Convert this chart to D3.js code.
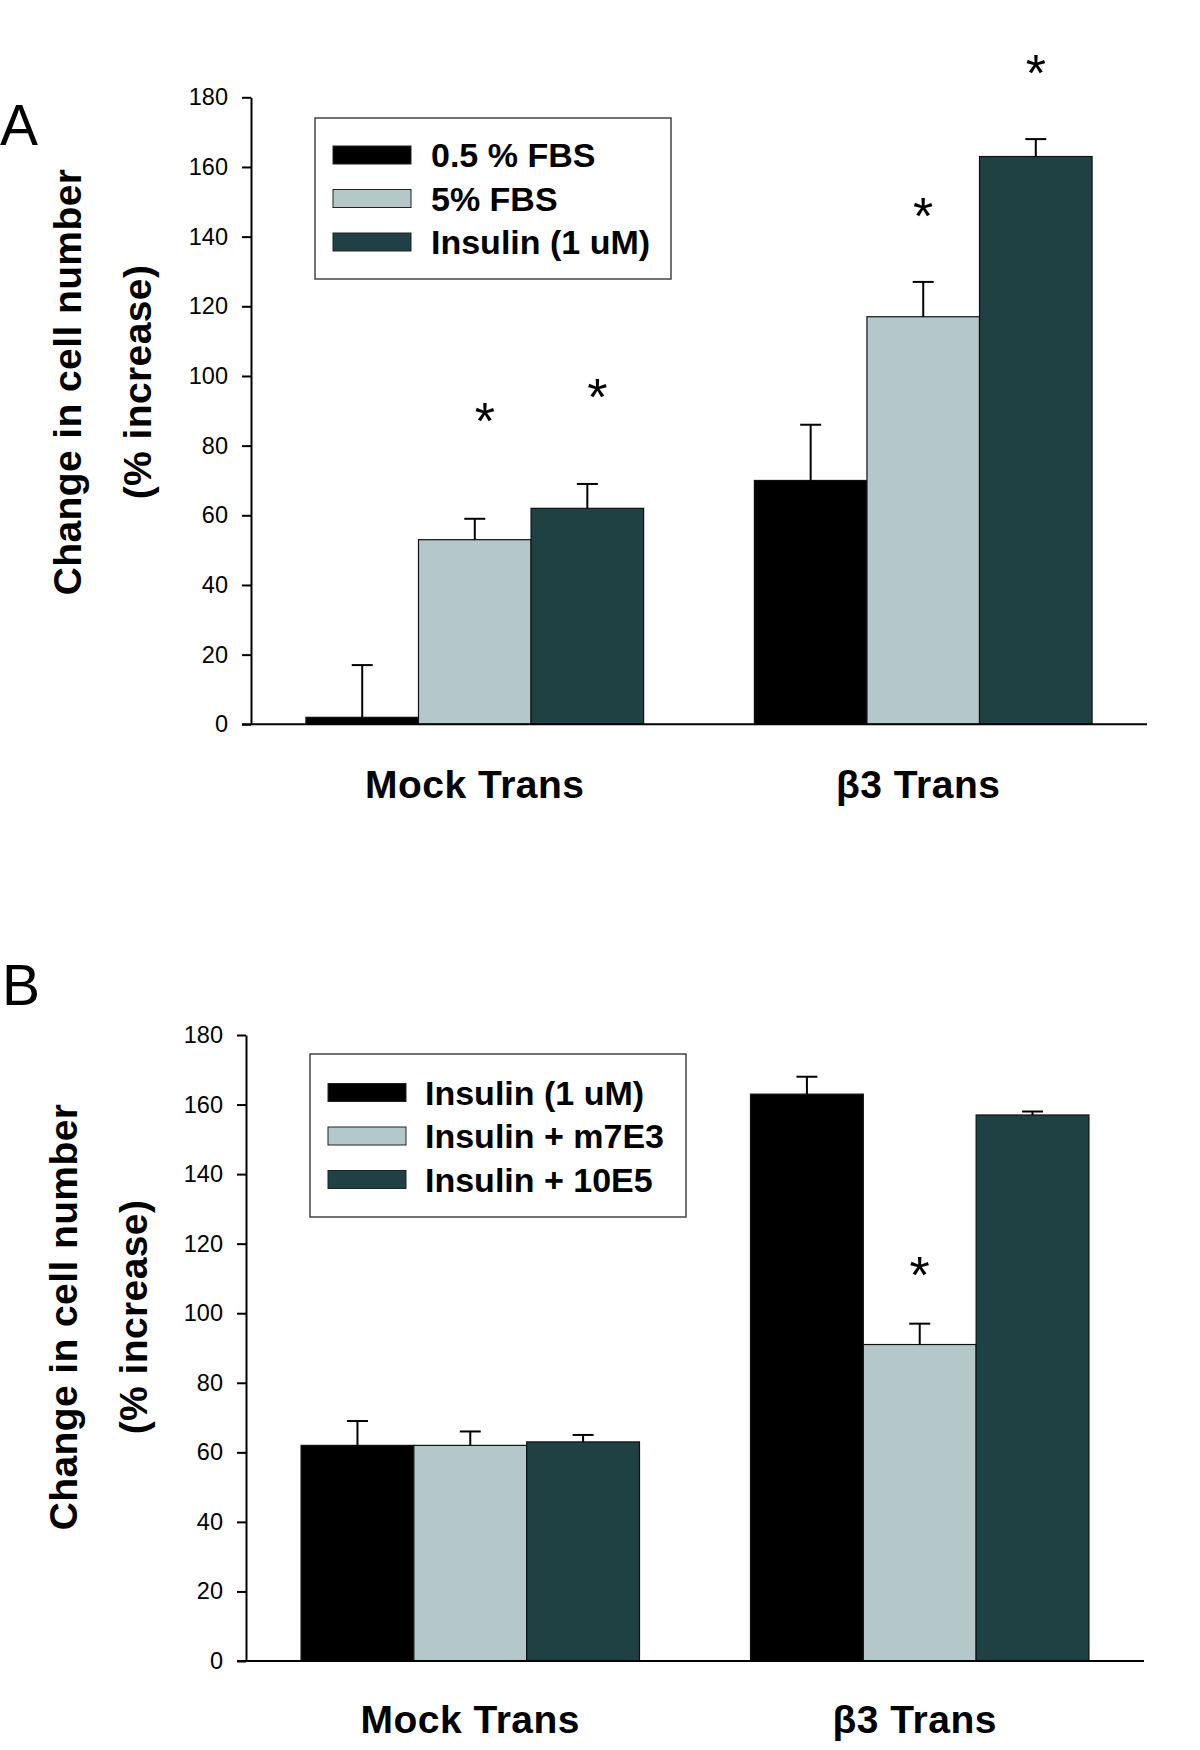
<!DOCTYPE html>
<html>
<head>
<meta charset="utf-8">
<script src="https://cdn.jsdelivr.net/npm/d3@7"></script>
<style>
  html, body { margin: 0; padding: 0; background: #fff; }
  svg { display: block; }
  text { font-family: "Liberation Sans", Arial, sans-serif; }
</style>
</head>
<body>
<svg id="chart" width="1200" height="1750"></svg>
<script>
// ---------- DATA ----------
const categories = ["Mock Trans", "β3 Trans"];
const yTicks = [0, 20, 40, 60, 80, 100, 120, 140, 160, 180];
const yTitle = ["Change in cell number", "(% increase)"];

// Panel A
const seriesA = ["0.5 % FBS", "5% FBS", "Insulin (1 uM)"];
const mockA = [2, 53, 62];
const beta3A = [70, 117, 163];
const mockErrA = [15, 6, 7];
const beta3ErrA = [16, 10, 5];
const mockStarA = [null, 89, 96];
const beta3StarA = [null, 148, 189];

// Panel B
const seriesB = ["Insulin (1 uM)", "Insulin + m7E3", "Insulin + 10E5"];
const mockB = [62, 62, 63];
const beta3B = [163, 91, 157];
const mockErrB = [7, 4, 2];
const beta3ErrB = [5, 6, 1];
const mockStarB = [null, null, null];
const beta3StarB = [null, 113, null];

const colors = ["#000000", "#b5c8c9", "#1f4144"];

// ---------- DRAW ----------
const svg = d3.select("#chart");
svg.append("rect").attr("width", 1200).attr("height", 1750).attr("fill", "#fff");

function drawPanel(p) {
  const g = svg.append("g");
  const y = d3.scaleLinear().domain([0, 180]).range([p.y0, p.y1]);
  const x0 = d3.scaleBand().domain(categories).range([p.xl, p.xr])
    .paddingInner(0.247).paddingOuter(0.1225);
  const x1 = d3.scaleBand().domain(p.series).range([0, x0.bandwidth()]).padding(0);

  const rows = categories.map((c, i) => ({
    cat: c, idx: i, vals: p.values[i], errs: p.errs[i], stars: p.stars[i]
  }));

  // bars
  const grp = g.selectAll("g.grp").data(rows).join("g")
    .attr("transform", d => `translate(${x0(d.cat)},0)`);
  grp.selectAll("rect").data(d => d.vals.map((v, j) => ({ s: p.series[j], v, j })))
    .join("rect")
    .attr("x", d => x1(d.s))
    .attr("y", d => y(d.v))
    .attr("width", x1.bandwidth())
    .attr("height", d => y(0) - y(d.v))
    .attr("fill", d => colors[d.j])
    .attr("stroke", "#111")
    .attr("stroke-width", 1.2);

  // error bars
  const eb = grp.selectAll("g.err").data(d => d.vals.map((v, j) => ({ s: p.series[j], v, e: d.errs[j] })))
    .join("g");
  eb.append("line")
    .attr("x1", d => x1(d.s) + x1.bandwidth() / 2)
    .attr("x2", d => x1(d.s) + x1.bandwidth() / 2)
    .attr("y1", d => y(d.v))
    .attr("y2", d => y(d.v + d.e))
    .attr("stroke", "#000").attr("stroke-width", 2);
  eb.append("line")
    .attr("x1", d => x1(d.s) + x1.bandwidth() / 2 - 10.5)
    .attr("x2", d => x1(d.s) + x1.bandwidth() / 2 + 10.5)
    .attr("y1", d => y(d.v + d.e))
    .attr("y2", d => y(d.v + d.e))
    .attr("stroke", "#000").attr("stroke-width", 2);

  // significance stars
  grp.selectAll("text.star").data(d => d.stars.map((s, j) => ({ s: p.series[j], v: s, idx: d.idx })).filter(d => d.v != null))
    .join("text")
    .attr("class", "star")
    .attr("x", d => x1(d.s) + x1.bandwidth() / 2 + (d.idx === 0 ? 10 : 0))
    .attr("y", d => y(d.v) + 25)
    .attr("text-anchor", "middle")
    .attr("font-size", 52)
    .attr("fill", "#000")
    .text("*");

  // y axis
  const yAxis = d3.axisLeft(y).tickValues(yTicks).tickSize(9).tickPadding(14).tickSizeOuter(0);
  const ya = g.append("g").attr("transform", `translate(${p.xl},0)`).call(yAxis);
  ya.select(".domain").attr("stroke", "#000").attr("stroke-width", 2);
  ya.selectAll(".tick line").attr("stroke", "#000").attr("stroke-width", 2);
  ya.selectAll(".tick text").attr("font-size", 23.5)
    .attr("font-family", "'Liberation Sans', Arial, sans-serif").attr("fill", "#000");

  // x axis baseline
  g.append("line").attr("x1", p.xl - 9).attr("x2", p.xr)
    .attr("y1", y(0)).attr("y2", y(0))
    .attr("stroke", "#000").attr("stroke-width", 2);

  // category labels
  g.selectAll("text.cat").data(categories).join("text")
    .attr("class", "cat")
    .attr("x", (d, i) => x0(d) + x0.bandwidth() / 2 - (i === 1 ? 5 : 0))
    .attr("y", p.catY)
    .attr("text-anchor", "middle")
    .attr("font-size", 39).attr("font-weight", "bold")
    .attr("letter-spacing", 0.5)
    .text(d => d);

  // y title
  yTitle.forEach((t, i) => {
    g.append("text")
      .attr("transform", `translate(${p.titleX[i]},${p.titleMid}) rotate(-90)`)
      .attr("text-anchor", "middle")
      .attr("font-size", 39).attr("font-weight", "bold")
      .attr("letter-spacing", 0.4)
      .text(t);
  });

  // legend
  const lg = g.append("g");
  lg.append("rect").attr("x", p.leg[0]).attr("y", p.leg[1])
    .attr("width", p.leg[2] - p.leg[0]).attr("height", p.leg[3] - p.leg[1])
    .attr("fill", "#fff").attr("stroke", "#444").attr("stroke-width", 1.5);
  p.series.forEach((s, j) => {
    const cy = p.legRow0 + j * p.legStep;
    lg.append("rect").attr("x", p.swX).attr("y", cy - 9).attr("width", 78).attr("height", 18)
      .attr("fill", colors[j]).attr("stroke", "#222").attr("stroke-width", 1);
    lg.append("text").attr("x", p.txX).attr("y", cy + 12)
      .attr("font-size", 34).attr("font-weight", "bold").text(s);
  });

  // panel letter
  g.append("text").attr("x", p.letter[1]).attr("y", p.letter[2])
    .attr("font-family", "'Open Sans', 'Noto Sans', sans-serif")
    .attr("font-size", 57).text(p.letter[0]);
}

drawPanel({
  series: seriesA,
  values: [mockA, beta3A], errs: [mockErrA, beta3ErrA], stars: [mockStarA, beta3StarA],
  xl: 251, xr: 1147, y0: 724.3, y1: 97.3,
  catY: 798, titleX: [81, 151], titleMid: 382,
  leg: [315, 118, 671, 279], swX: 333, txX: 431, legRow0: 155, legStep: 43.5,
  letter: ["A", 0, 145]
});

drawPanel({
  series: seriesB,
  values: [mockB, beta3B], errs: [mockErrB, beta3ErrB], stars: [mockStarB, beta3StarB],
  xl: 246, xr: 1144, y0: 1661, y1: 1035,
  catY: 1733, titleX: [77, 147], titleMid: 1317,
  leg: [310, 1054, 686, 1217], swX: 328, txX: 425, legRow0: 1092.5, legStep: 43.5,
  letter: ["B", 2, 1005]
});
</script>
</body>
</html>
